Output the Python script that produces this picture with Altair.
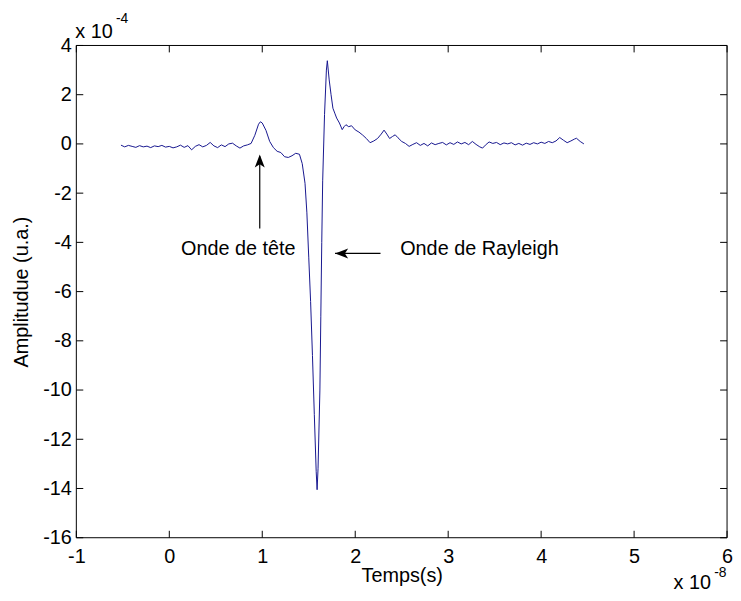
import altair as alt
import pandas as pd

# time in units of 1e-8 s, amplitude in units of 1e-4 (u.a.)
time = [-0.52, -0.48, -0.44, -0.40, -0.36, -0.32, -0.28, -0.24, -0.20, -0.16,
        -0.12, -0.08, -0.04, 0.00, 0.04, 0.08, 0.12, 0.16, 0.20, 0.24,
        0.28, 0.32, 0.36, 0.40, 0.44, 0.48, 0.52, 0.56, 0.60, 0.64,
        0.68, 0.72, 0.76, 0.80, 0.84, 0.88, 0.92, 0.96, 0.98, 1.00,
        1.04, 1.08, 1.12, 1.16, 1.20, 1.24, 1.28, 1.32, 1.36, 1.40,
        1.43, 1.46, 1.48, 1.50, 1.52, 1.54, 1.56, 1.58, 1.59, 1.60,
        1.62, 1.63, 1.64, 1.65, 1.67, 1.69, 1.70, 1.72, 1.74, 1.76,
        1.78, 1.80, 1.83, 1.86, 1.88, 1.90, 1.93, 1.96, 2.00, 2.04,
        2.08, 2.12, 2.16, 2.20, 2.24, 2.28, 2.31, 2.34, 2.37, 2.40,
        2.43, 2.46, 2.50, 2.54, 2.58, 2.62, 2.66, 2.70, 2.74, 2.78,
        2.82, 2.86, 2.90, 2.94, 2.98, 3.02, 3.06, 3.10, 3.14, 3.18,
        3.22, 3.26, 3.30, 3.34, 3.37, 3.40, 3.44, 3.48, 3.52, 3.56,
        3.60, 3.64, 3.68, 3.72, 3.76, 3.80, 3.84, 3.88, 3.92, 3.96,
        4.00, 4.04, 4.08, 4.12, 4.16, 4.20, 4.24, 4.28, 4.32, 4.36,
        4.38, 4.42, 4.46]
amplitude = [-0.05, -0.12, -0.06, -0.10, -0.14, -0.07, -0.12, -0.09, -0.15, -0.08,
             -0.11, -0.06, -0.13, -0.10, -0.16, -0.12, -0.05, -0.14, -0.07, -0.24,
             -0.10, -0.03, -0.12, -0.06, 0.06, -0.08, -0.15, -0.04, -0.11, 0.00,
             0.03, -0.08, -0.17, -0.08, -0.04, 0.02, 0.35, 0.80, 0.90, 0.85,
             0.55, 0.10, -0.15, -0.30, -0.35, -0.52, -0.55, -0.48, -0.38, -0.42,
             -0.80, -1.60, -2.80, -4.60, -6.40, -8.60, -11.00, -13.30, -14.05, -13.20,
             -10.00, -7.00, -4.00, -1.50, 1.20, 3.00, 3.38, 2.60, 2.00, 1.45,
             1.25, 1.05, 0.85, 0.58, 0.70, 0.78, 0.70, 0.74, 0.57, 0.48,
             0.36, 0.22, 0.05, 0.12, 0.22, 0.40, 0.56, 0.40, 0.22, 0.30,
             0.37, 0.25, 0.10, 0.02, -0.10, -0.02, 0.05, -0.06, 0.02, -0.08,
             0.04, -0.03, 0.02, 0.06, -0.04, 0.05, -0.02, 0.08, 0.00, 0.06,
             -0.03, 0.10, -0.02, -0.12, -0.17, -0.05, 0.08, 0.02, 0.06, -0.03,
             0.04, 0.00, 0.05, -0.04, 0.02, -0.05, 0.03, -0.02, 0.05, 0.00,
             0.07, 0.02, 0.10, 0.05, 0.12, 0.26, 0.15, 0.05, 0.12, 0.20,
             0.23, 0.10, 0.00]

x_ticks = [-1, 0, 1, 2, 3, 4, 5, 6]
y_ticks = [-16, -14, -12, -10, -8, -6, -4, -2, 0, 2, 4]

# annotations (data coordinates)
label_head = ["Onde de tête"]
label_head_t = [0.742]
label_head_v = [-4.53]
label_ray = ["Onde de Rayleigh"]
label_ray_t = [2.484]
label_ray_v = [-4.53]

arrow_t = [0.973, 2.272]
arrow_v = [-3.44, -4.45]
arrow_t2 = [0.973, 1.783]
arrow_v2 = [-0.50, -4.45]

tip_up_t = [0.973]
tip_up_v = [-0.43]
tip_left_t = [1.783]
tip_left_v = [-4.45]

W, H = 657, 497
FONT = "Liberation Sans"
BLUE = "#16168f"

xs = alt.Scale(domain=[-1, 6], nice=False, zero=False)
ys = alt.Scale(domain=[-16, 4], nice=False, zero=False)

x_axis = alt.Axis(values=x_ticks, title="Temps(s)", labelExpr="datum.value + ''",
                  labelPadding=9, labelBaseline="top", labelFlush=False, labelOverlap=False,
                  domain=False, ticks=False, grid=False,
                  titleBaseline="alphabetic", titleY=44, titleX=W / 2)
y_axis = alt.Axis(values=y_ticks, title="Amplitudue (u.a.)", labelExpr="datum.value + ''",
                  labelPadding=5, labelFlush=False, labelOverlap=False,
                  domain=False, ticks=False, grid=False,
                  titleBaseline="alphabetic", titleX=-49, titleY=H / 2, titleAngle=270)


def X(field="t"):
    return alt.X(f"{field}:Q", scale=xs, axis=x_axis)


def Y(field="v"):
    return alt.Y(f"{field}:Q", scale=ys, axis=y_axis)


df = pd.DataFrame({"t": time, "v": amplitude})
xt = pd.DataFrame({"t": x_ticks})
yt = pd.DataFrame({"v": y_ticks})

line = alt.Chart(df).mark_line(color=BLUE, strokeWidth=1).encode(x=X(), y=Y())

TL = 7
K = "black"
tick_b = alt.Chart(xt).mark_rule(color=K, strokeWidth=1).encode(
    x=X(), y=alt.value(H), y2=alt.value(H - TL))
tick_t = alt.Chart(xt).mark_rule(color=K, strokeWidth=1).encode(
    x=X(), y=alt.value(0), y2=alt.value(TL))
tick_l = alt.Chart(yt).mark_rule(color=K, strokeWidth=1).encode(
    y=Y(), x=alt.value(0), x2=alt.value(TL))
tick_r = alt.Chart(yt).mark_rule(color=K, strokeWidth=1).encode(
    y=Y(), x=alt.value(W - TL), x2=alt.value(W))

frame_src = pd.DataFrame({"k": [0]})
frame_top = alt.Chart(frame_src).mark_rule(color=K, strokeWidth=1).encode(
    x=alt.value(0), x2=alt.value(W), y=alt.value(0))
frame_bot = alt.Chart(frame_src).mark_rule(color=K, strokeWidth=1).encode(
    x=alt.value(0), x2=alt.value(W), y=alt.value(H))
frame_l = alt.Chart(frame_src).mark_rule(color=K, strokeWidth=1).encode(
    x=alt.value(0), y=alt.value(0), y2=alt.value(H))
frame_r = alt.Chart(frame_src).mark_rule(color=K, strokeWidth=1).encode(
    x=alt.value(W), y=alt.value(0), y2=alt.value(H))

txt_head = alt.Chart(pd.DataFrame({"s": label_head, "t": label_head_t, "v": label_head_v})).mark_text(
    font=FONT, fontSize=20, align="center", baseline="alphabetic", color=K).encode(
    x=X(), y=Y(), text="s:N")
txt_ray = alt.Chart(pd.DataFrame({"s": label_ray, "t": label_ray_t, "v": label_ray_v})).mark_text(
    font=FONT, fontSize=20, align="left", baseline="alphabetic", color=K).encode(
    x=X(), y=Y(), text="s:N")

arrows = alt.Chart(pd.DataFrame({"t": arrow_t, "v": arrow_v, "t2": arrow_t2, "v2": arrow_v2})).mark_rule(
    color=K, strokeWidth=1.2).encode(x=X(), y=Y(), x2="t2:Q", y2="v2:Q")

UP = "M0,0 L0.38,1 L0,0.75 L-0.38,1 Z"
LEFT = "M0,0 L1,-0.38 L0.75,0 L1,0.38 Z"
head_up = alt.Chart(pd.DataFrame({"t": tip_up_t, "v": tip_up_v})).mark_point(
    shape=UP, size=700, filled=True, color=K, opacity=1).encode(x=X(), y=Y())
head_left = alt.Chart(pd.DataFrame({"t": tip_left_t, "v": tip_left_v})).mark_point(
    shape=LEFT, size=700, filled=True, color=K, opacity=1).encode(x=X(), y=Y())


def label(s, x, y, size):
    return alt.Chart(pd.DataFrame({"s": [s]})).mark_text(
        font=FONT, fontSize=size, align="left", baseline="alphabetic", color=K).encode(
        text="s:N", x=alt.value(x), y=alt.value(y))


exp_y1 = label("x 10", -1, -8, 20)
exp_y2 = label("-4", 40, -23, 14)
exp_x1 = label("x 10", 603, 549, 20)
exp_x2 = label("-8", 644, 537, 14)

chart = alt.layer(
    line, tick_b, tick_t, tick_l, tick_r, frame_top, frame_bot, frame_l, frame_r,
    arrows, head_up, head_left, txt_head, txt_ray, exp_y1, exp_y2, exp_x1, exp_x2
).properties(
    width=W, height=H,
    autosize=alt.AutoSizeParams(type="none"),
    padding={"left": 69, "top": 35, "right": 6, "bottom": 55},
    background="white",
).configure_view(
    stroke=None
).configure_axis(
    labelFont=FONT, labelFontSize=20, labelColor=K,
    titleFont=FONT, titleFontSize=20, titleFontWeight="normal", titleColor=K,
)

chart.save("out.html", embed_options={"renderer": "svg", "actions": False})
